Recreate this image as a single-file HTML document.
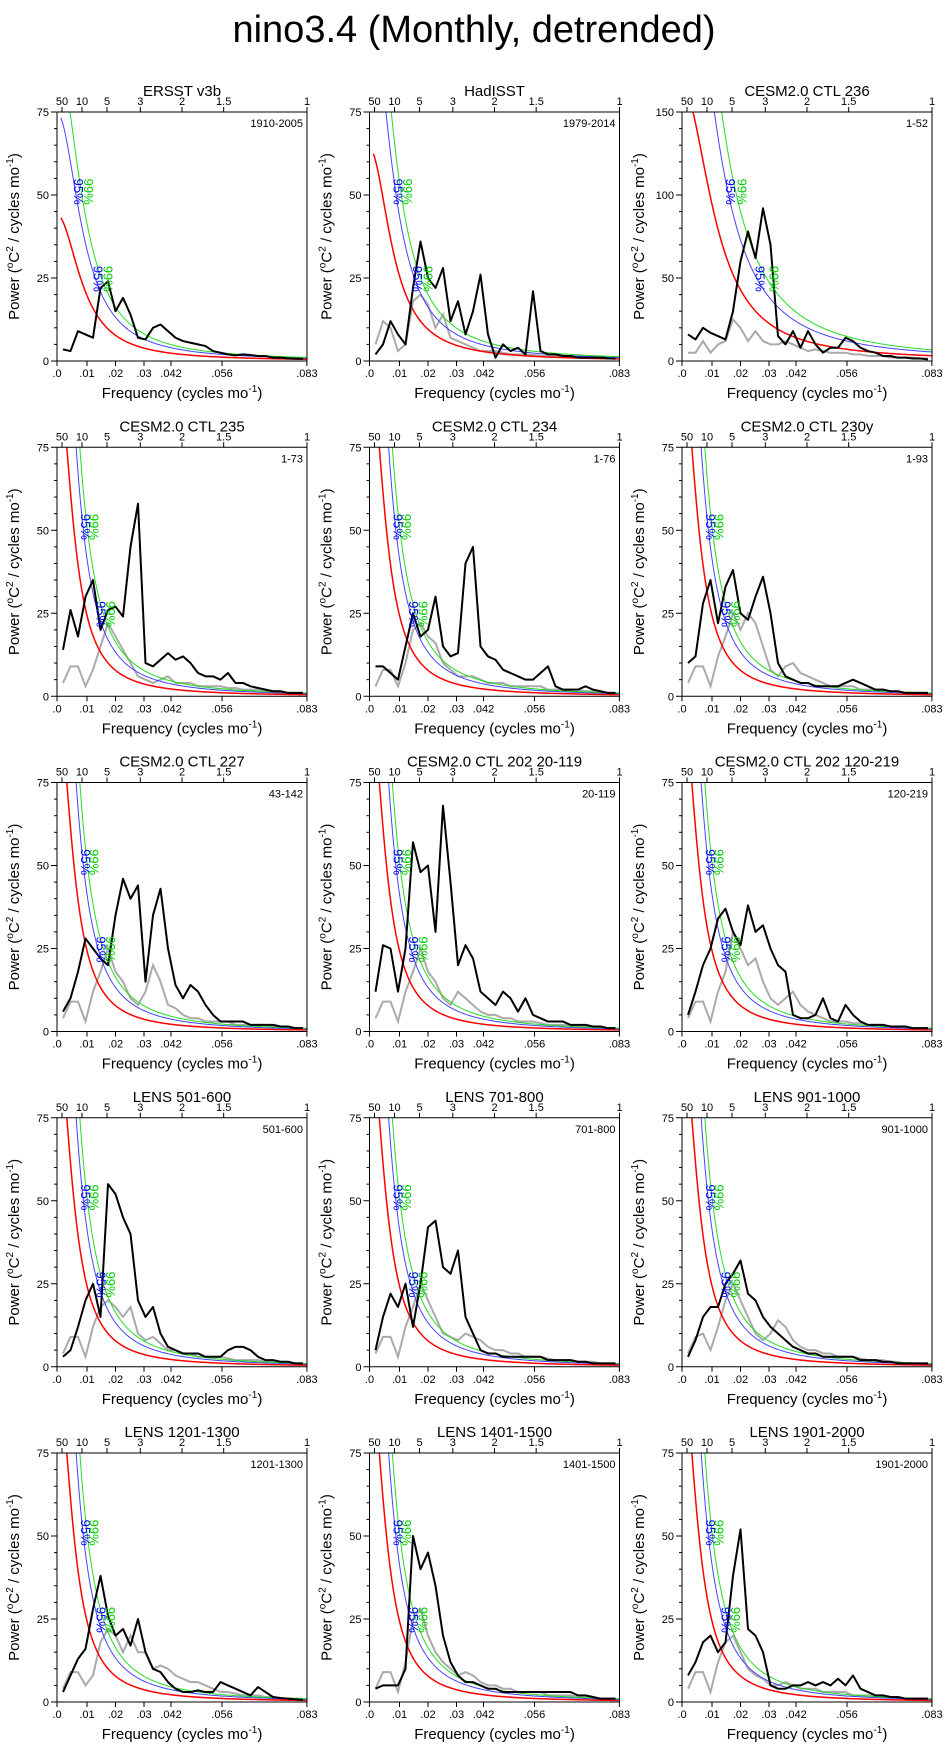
<!DOCTYPE html>
<html><head><meta charset="utf-8"><style>
html,body{margin:0;padding:0;background:#fff;}
svg{display:block;font-family:"Liberation Sans",sans-serif;}
</style></head><body>
<svg id="root" width="949" height="1750" viewBox="0 0 949 1750">
<text x="474" y="42" font-size="38" text-anchor="middle">nino3.4 (Monthly, detrended)</text>
</svg>
<script>
const freqs=[0.002,0.0045,0.007,0.0095,0.012,0.0145,0.017,0.0195,0.022,0.0245,0.027,0.0295,0.032,0.0345,0.037,0.0395,0.042,0.0445,0.047,0.0495,0.052,0.0545,0.057,0.0595,0.062,0.0645,0.067,0.0695,0.072,0.0745,0.077,0.0795,0.082];
const panelTitles=["ERSST v3b","HadISST","CESM2.0 CTL 236","CESM2.0 CTL 235","CESM2.0 CTL 234","CESM2.0 CTL 230y","CESM2.0 CTL 227","CESM2.0 CTL 202 20-119","CESM2.0 CTL 202 120-219","LENS 501-600","LENS 701-800","LENS 901-1000","LENS 1201-1300","LENS 1401-1500","LENS 1901-2000"];
const yearLabels=["1910-2005","1979-2014","1-52","1-73","1-76","1-93","43-142","20-119","120-219","501-600","701-800","901-1000","1201-1300","1401-1500","1901-2000"];
const yMaxes=[75,75,150,75,75,75,75,75,75,75,75,75,75,75,75];
const redP0=[44,64,165,100,100,100,100,100,100,100,100,100,100,100,100];
const redR=[0.945,0.95,0.93,0.965,0.965,0.965,0.965,0.965,0.965,0.965,0.965,0.965,0.965,0.965,0.965];
const factor95=1.7;
const factor99=2.1;
const bottomTickFreqs=[0,0.01,0.0195,0.029,0.038,0.055,0.0833];
const bottomTickLabels=[".0",".01",".02",".03",".042",".056",".083"];
const topPeriods=[50,10,5,3,2,1.5,1];
const topLabels=["50","10","5","3","2","1.5","1"];
const black1=[3.5,3,9,8,7,22,24,15,19,14,7,6.5,10,11,9,7,6,5.5,5,4.5,3,2.5,2,1.7,2,1.8,1.5,1.5,1,1,0.8,0.7,0.6];
const black2=[2,5,12,8,5,22,36,25,22,28,12,18,8,15,26,8,1,5,3,4,2,21,3,2,2,1.5,1.5,1,1,1,1,0.8,0.7];
const black3=[16,13,20,17,15,13,30,60,78,62,92,70,15,10,18,8,18,10,5,8,8,14,12,8,6,5,3,3,2,2,1.5,1.5,1];
const black4=[14,26,18,30,35,20,26,27,24,45,58,10,9,11,13,11,12,10,7,6,6,5,7,4,4,3,2.5,2,1.5,1.5,1,1,1];
const black5=[9,9,7,5,15,25,18,20,30,15,12,13,40,45,15,12,11,8,7,6,5,5,7,9,3,2,2,2,3,2,1.5,1,1];
const black6=[10,12,28,35,22,33,38,25,23,30,36,25,10,6,5,4,4,3,3,3,3,4,5,4,3,2,2,1.5,1.5,1,1,1,1];
const black7=[6,10,18,28,25,22,20,35,46,40,44,15,35,43,25,14,10,14,12,8,5,3,3,3,3,2,2,2,2,1.5,1.5,1,1];
const black8=[12,26,25,12,25,57,48,50,30,68,45,20,26,22,12,10,8,12,10,6,10,5,4,3,3,3,2,2,2,1.5,1.5,1,1];
const black9=[5,12,20,25,34,37,30,26,38,30,32,25,20,18,5,4,4,5,10,4,3,8,5,3,2,2,2,1.5,1.5,1.5,1,1,1];
const black10=[3,5,12,20,25,15,55,52,45,40,20,15,18,10,6,5,4,4,4,3,3,3,5,6,6,5,3,2,2,1.5,1.5,1,1];
const black11=[5,15,22,18,25,12,25,42,44,30,28,35,15,10,5,4,4,3,3,3,3,3,3,2,2,2,2,1.5,1.5,1,1,1,1];
const black12=[3,8,15,18,18,25,28,32,22,20,15,12,10,8,6,5,4,4,3,3,3,3,3,2,2,2,1.5,1.5,1,1,1,1,1];
const black13=[3,8,13,16,28,38,26,20,22,17,25,15,10,9,6,4,3,3,3.5,3,3,6,5,4,3,2,4.5,3,1.5,1.2,1,0.8,0.6];
const black14=[4,5,5,5,10,50,40,45,35,20,12,8,6,6,5,4,4,3,3,3,3,3,3,3,3,3,3,2,2,1.5,1,1,1];
const black15=[8,12,18,20,15,18,38,52,22,20,15,5,4,4,5,5,6,5,6,5,7,5,8,4,3,2,2,1.5,1.5,1,1,1,1];
const gray1=null;
const gray2=[5,12,10,3,5,18,20,17,10,14,7,6,5,4,3,3,3,2.5,2,2,2,1.8,1.6,1.5,1.4,1.3,1.2,1.1,1,1,0.9,0.8,0.7];
const gray3=[5,5,12,5,10,12,25,20,12,18,12,10,10,12,10,8,6,7,6,5,5,5,4,4,3,3,3,2,2,2,2,1.5,1.5];
const gray4=[4,9,9,3,8,15,22,18,14,10,6,5,4,5,6,4,4,4,3,3,3,3,2.5,2.5,2,2,2,1.5,1.5,1.5,1,1,1];
const gray5=[3,8,8,3,10,20,22,18,16,10,8,6,6,6,5,4,4,4,3,3,3,3,3,2,2,2,2,2,1.5,1.5,1,1,1];
const gray6=[4,9,9,3,12,18,25,20,25,22,15,8,6,9,10,7,6,5,4,3,3,3,3,2,2,2,2,1.5,1.5,1,1,1,1];
const gray7=[4,9,9,3,12,18,25,18,15,10,8,12,20,15,8,7,5,4,4,3,3,3,3,2,2,2,2,2,1.5,1.5,1,1,1];
const gray8=[4,9,9,3,12,18,25,18,15,10,8,12,10,8,6,5,5,4,4,3,3,3,2.5,2,2,2,2,1.5,1.5,1.5,1,1,1];
const gray9=[4,9,9,3,12,18,30,25,20,22,15,10,8,10,12,8,6,5,4,3,3,3,2.5,2.5,2,2,2,1.5,1.5,1,1,1,1];
const gray10=[4,9,9,3,12,18,20,18,15,18,10,8,9,7,5,5,4,4,3,3,3,3,2.5,2,2,2,2,1.5,1.5,1.5,1,1,1];
const gray11=[4,9,9,3,12,18,25,20,15,10,9,8,10,9,8,6,5,5,4,4,3,3,3,2.5,2,2,2,1.5,1.5,1.5,1,1,1];
const gray12=[4,9,10,5,12,20,25,20,15,10,8,10,14,12,8,6,5,5,4,4,3,3,3,2.5,2,2,2,1.5,1.5,1,1,1,1];
const gray13=[4,9,9,5,8,18,22,20,15,20,15,15,10,11,10,8,7,6,6,5,4,3,3,2.5,2,2,2,1.5,1.5,1,1,1,1];
const gray14=[4,9,9,3,12,25,28,20,15,12,10,8,9,8,6,5,5,4,4,3,3,3,3,2,2,2,2,1.5,1.5,1,1,1,1];
const gray15=[4,9,9,3,12,18,20,15,10,8,7,5,5,6,5,4,4,4,3,3,3,3,2,2,2,2,1.5,1.5,1.5,1,1,1,1];
const blackSeries=[black1,black2,black3,black4,black5,black6,black7,black8,black9,black10,black11,black12,black13,black14,black15];
const graySeries=[gray1,gray2,gray3,gray4,gray5,gray6,gray7,gray8,gray9,gray10,gray11,gray12,gray13,gray14,gray15];

const NS="http://www.w3.org/2000/svg";
const root=document.getElementById('root');
const FMAX=1/12;
function mk(tag,attrs,parent){const e=document.createElementNS(NS,tag);for(const k in attrs)e.setAttribute(k,attrs[k]);(parent||root).appendChild(e);return e;}
function redNoise(p,f){const r=redR[p];const a=(1-r)*(1-r);const d=a+2*r*(1-Math.cos(2*Math.PI*f));return redP0[p]*a/d;}

for(let p=0;p<15;p++){
  const col=p%3,row=Math.floor(p/3);
  const L=57+col*312.5,T=112+row*335.25,W=250,H=249;
  const yMax=yMaxes[p];
  const xs=f=>L+f/FMAX*W;
  const ys=v=>T+H-v/yMax*H;
  const g=mk('g',{});
  
  
  const cp=mk('clipPath',{id:'clip'+p},g);
  mk('rect',{x:L,y:T,width:W,height:H},cp);
  const t=mk('text',{x:L+W/2,y:T-16,'font-size':15,'text-anchor':'middle'},g);
  t.textContent=panelTitles[p];
  
  
  const yl=mk('text',{x:L+W-4,y:T+15,'font-size':11,'text-anchor':'end'},g);
  yl.textContent=yearLabels[p];
  
  
  for(let i=0;i<=15;i++){
    const v=yMax*i/15,y=ys(v),major=i%5===0;
    mk('line',{x1:L-(major?6:3),x2:L,y1:y,y2:y,stroke:'#000','stroke-width':1},g);
    if(major){const tl=mk('text',{x:L-8,y:y+4,'font-size':11,'text-anchor':'end'},g);tl.textContent=String(v);
      
      }
  }
  for(let i=0;i<bottomTickFreqs.length;i++){
    const x=xs(bottomTickFreqs[i]);
    mk('line',{x1:x,x2:x,y1:T+H,y2:T+H+5,stroke:'#000','stroke-width':1},g);
    const bl=mk('text',{x:x,y:T+H+16,'font-size':11,'text-anchor':'middle'},g);bl.textContent=bottomTickLabels[i];
    
    
  }
  for(let i=0;i<topPeriods.length;i++){
    const x=xs(1/(12*topPeriods[i]));
    mk('line',{x1:x,x2:x,y1:T-5,y2:T,stroke:'#000','stroke-width':1},g);
    const tt=mk('text',{x:x,y:T-7,'font-size':11,'text-anchor':'middle'},g);tt.textContent=topLabels[i];
    
    
  }
  const xt=mk('text',{x:L+W/2,y:T+H+37,'font-size':15,'text-anchor':'middle'},g);
  xt.innerHTML='Frequency (cycles mo<tspan dy="-6" font-size="10">-1</tspan><tspan dy="6">)</tspan>';
  
  
  const yt=mk('text',{x:0,y:0,'font-size':15,'text-anchor':'middle',transform:`translate(${L-38},${T+H/2}) rotate(-90)`},g);
  yt.innerHTML='Power (<tspan dy="-6" font-size="10">o</tspan><tspan dy="6">C</tspan><tspan dy="-6" font-size="10">2</tspan><tspan dy="6"> / cycles mo</tspan><tspan dy="-6" font-size="10">-1</tspan><tspan dy="6">)</tspan>';
  
  
  const cg=mk('g',{'clip-path':`url(#clip${p})`},g);
  if(graySeries[p]){
    const pl=mk('polyline',{points:graySeries[p].map((v,i)=>xs(freqs[i])+','+ys(v)).join(' '),fill:'none',stroke:'#aaaaaa','stroke-width':2},cg);
    
    
  }
  const curves=[[1,'#ff0000',1.5,'red-noise-line'],[factor95,'#4444ff',1,'95-percent-line'],[factor99,'#22dd22',1,'99-percent-line']];
  for(const c of curves){
    const pts=[];
    for(let f=0.0013;f<=FMAX+1e-9;f+=0.0005){pts.push(xs(f)+','+ys(Math.min(redNoise(p,f)*c[0],yMax*1.2)));}
    const pl=mk('polyline',{points:pts.join(' '),fill:'none',stroke:c[1],'stroke-width':c[2]},cg);
    
    
  }
  const bk=mk('polyline',{points:blackSeries[p].map((v,i)=>xs(freqs[i])+','+ys(v)).join(' '),fill:'none',stroke:'#000','stroke-width':2,'stroke-linejoin':'round'},cg);
  
  
  const labs=[[factor95,'#0000ff','95%',-4],[factor99,'#00cc00','99%',4]];
  for(const lvl of [0.68,0.33]){
    for(const lb of labs){
      let f=0.0013;while(f<FMAX&&redNoise(p,f)*lb[0]>yMax*lvl)f+=0.0002;
      const x=xs(f)+lb[3]*0.5,y=ys(yMax*lvl);
      const tx=mk('text',{x:0,y:0,'font-size':13,fill:lb[1],'text-anchor':'middle',transform:`translate(${x},${y}) rotate(90)`},g);
      tx.textContent=lb[2];
      
      
    }
  }
  const fr=mk('rect',{x:L,y:T,width:W,height:H,fill:'none',stroke:'#000','stroke-width':1},g);
  
  
}
</script>
</body></html>
